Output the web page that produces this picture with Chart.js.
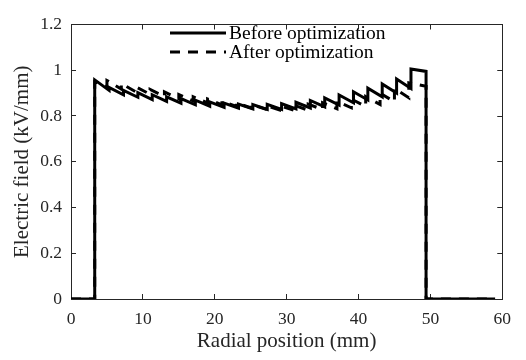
<!DOCTYPE html>
<html>
<head>
<meta charset="utf-8">
<script src="https://cdn.jsdelivr.net/npm/chart.js@4/dist/chart.umd.min.js"></script>
<style>
  html, body { margin: 0; padding: 0; background: #fff; }
  #wrap { width: 526px; height: 360px; }
</style>
</head>
<body>
<div id="wrap"><canvas id="field-chart" width="526" height="360"></canvas></div>
<script>
// layer edges (mm) and field at the start / end of each layer (kV/mm)
const edgesBefore = [3.3, 5.3, 7.3, 9.3, 11.3, 13.3, 15.3, 17.3, 19.3, 21.3, 23.3, 25.3,
  27.3, 29.3, 31.3, 33.3, 35.3, 37.3, 39.3, 41.3, 43.3, 45.3, 47.3, 49.4];
const topsBefore = [0.958, 0.925, 0.912, 0.902, 0.893, 0.884, 0.876, 0.869, 0.862, 0.856, 0.852,
  0.850, 0.851, 0.854, 0.860, 0.868, 0.879, 0.892, 0.906, 0.922, 0.940, 0.962, 1.005];
const endsBefore = [0.912, 0.893, 0.882, 0.872, 0.864, 0.856, 0.849, 0.843, 0.838, 0.834, 0.831,
  0.829, 0.829, 0.831, 0.835, 0.840, 0.848, 0.858, 0.870, 0.884, 0.900, 0.920, 0.995];

const edgesAfter = [3.3, 5.0, 7.0, 9.0, 11.0, 13.0, 15.0, 17.0, 19.0, 21.0, 23.0, 25.0,
  27.0, 29.0, 31.0, 33.0, 35.0, 37.0, 39.0, 41.0, 43.0, 45.0, 47.0, 49.4];
const topsAfter = [0.950, 0.955, 0.942, 0.928, 0.916, 0.905, 0.894, 0.884, 0.874, 0.865, 0.857,
  0.851, 0.847, 0.845, 0.848, 0.852, 0.858, 0.865, 0.874, 0.885, 0.900, 0.920, 0.945];
const endsAfter = [0.930, 0.918, 0.906, 0.895, 0.885, 0.875, 0.866, 0.857, 0.849, 0.842, 0.836,
  0.831, 0.827, 0.825, 0.825, 0.828, 0.832, 0.836, 0.842, 0.850, 0.862, 0.880, 0.930];

const xStart = 0;
const xEnd = 59;
const xTicks = [0, 10, 20, 30, 40, 50, 60];
const yTicks = [0, 0.2, 0.4, 0.6, 0.8, 1, 1.2];
const seriesNames = ["Before optimization", "After optimization"];

function profile(edges, tops, ends) {
  const pts = [{ x: xStart, y: 0 }, { x: edges[0], y: 0 }];
  for (let i = 0; i < tops.length; i++) {
    pts.push({ x: edges[i], y: tops[i] });
    pts.push({ x: edges[i + 1], y: ends[i] });
  }
  pts.push({ x: edges[edges.length - 1], y: 0 });
  pts.push({ x: xEnd, y: 0 });
  return pts;
}

const serif = "'Liberation Serif', 'Times New Roman', serif";
const textColor = "#262626";

// two-row legend without a box, like the original figure
const rowLegend = {
  id: "rowLegend",
  afterDatasetsDraw(chart) {
    const ctx = chart.ctx;
    const rows = [33, 52];
    ctx.save();
    chart.data.datasets.forEach((ds, i) => {
      ctx.beginPath();
      ctx.setLineDash(ds.borderDash || []);
      ctx.lineWidth = ds.borderWidth;
      ctx.strokeStyle = ds.borderColor;
      ctx.moveTo(170, rows[i]);
      ctx.lineTo(226, rows[i]);
      ctx.stroke();
      ctx.setLineDash([]);
      ctx.fillStyle = "#000";
      ctx.font = "19.5px " + serif;
      ctx.textBaseline = "middle";
      ctx.textAlign = "left";
      ctx.fillText(ds.label, 229, rows[i] + 1);
    });
    ctx.restore();
  }
};

function mirrorAxis(pos) {
  return {
    type: "linear",
    position: pos,
    min: 0,
    max: pos === "top" ? 60 : 1.2,
    ticks: { display: false, stepSize: pos === "top" ? 10 : 0.2 },
    grid: { drawOnChartArea: false, tickLength: -5, color: "#262626", lineWidth: 1 },
    border: { display: true, color: "#262626", width: 1 },
    afterFit: (s) => { if (pos === "top") s.height = 0; else s.width = 0; }
  };
}

new Chart(document.getElementById("field-chart"), {
  type: "line",
  data: {
    datasets: [
      {
        label: seriesNames[0],
        data: profile(edgesBefore, topsBefore, endsBefore),
        borderColor: "#000",
        borderWidth: 3,
        pointRadius: 0,
        tension: 0,
        fill: false
      },
      {
        label: seriesNames[1],
        data: profile(edgesAfter, topsAfter, endsAfter),
        borderColor: "#000",
        borderWidth: 3,
        borderDash: [10, 8],
        pointRadius: 0,
        tension: 0,
        fill: false
      }
    ]
  },
  options: {
    responsive: false,
    animation: false,
    layout: { padding: { left: 0, top: 17, right: 22, bottom: 0 } },
    plugins: {
      legend: { display: false },
      tooltip: { enabled: false }
    },
    scales: {
      x: {
        type: "linear",
        position: "bottom",
        min: 0,
        max: 60,
        afterBuildTicks: (s) => { s.ticks = xTicks.map(v => ({ value: v })); },
        ticks: { color: textColor, padding: 15, font: { family: serif, size: 17.5 } },
        grid: { drawOnChartArea: false, tickLength: -5, color: "#262626", lineWidth: 1 },
        border: { display: true, color: "#262626", width: 1 },
        title: {
          display: true,
          text: "Radial position (mm)",
          color: textColor,
          font: { family: serif, size: 21 },
          padding: { top: 0, bottom: 6 }
        },
        afterFit: (s) => { s.height = 61; }
      },
      y: {
        type: "linear",
        position: "left",
        min: 0,
        max: 1.2,
        afterBuildTicks: (s) => { s.ticks = yTicks.map(v => ({ value: v })); },
        ticks: {
          color: textColor,
          padding: 14,
          font: { family: serif, size: 17.5 },
          callback: (v) => String(Math.round(v * 10) / 10)
        },
        grid: { drawOnChartArea: false, tickLength: -5, color: "#262626", lineWidth: 1 },
        border: { display: true, color: "#262626", width: 1 },
        title: {
          display: true,
          text: "Electric field (kV/mm)",
          color: textColor,
          font: { family: serif, size: 21 },
          padding: { top: 10, bottom: 0 }
        },
        afterFit: (s) => { s.width = 71; }
      },
      x2: mirrorAxis("top"),
      y2: mirrorAxis("right")
    }
  },
  plugins: [rowLegend]
});
</script>
</body>
</html>
